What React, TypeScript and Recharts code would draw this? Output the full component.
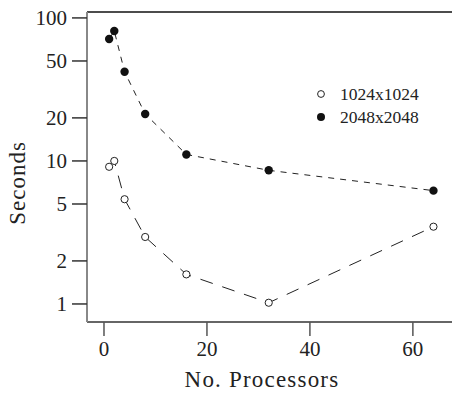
import { ComposedChart, Line, XAxis, YAxis, Label, ReferenceLine } from "recharts";

const processors = [1, 2, 4, 8, 16, 32, 64];
const seconds1024 = [9.1, 10.0, 5.4, 2.94, 1.61, 1.02, 3.47];
const seconds2048 = [71.3, 81, 42, 21.3, 11.1, 8.6, 6.2];
const xTicks = [0, 20, 40, 60];
const yTicks = [1, 2, 5, 10, 20, 50, 100];
const seriesNames = ["1024x1024", "2048x2048"];
const xDomain = [-3.3, 67.6];
const yDomain = [0.748, 110];

const chartData = processors.map((p, i) => ({
  p,
  a: seconds1024[i],
  b: seconds2048[i],
}));

const FONT = "'Liberation Serif', 'Times New Roman', serif";

function OpenDot(props: any) {
  const { cx, cy } = props;
  if (cx == null || cy == null) return null;
  return <circle cx={cx} cy={cy} r={3.6} fill="#fff" stroke="#222" strokeWidth={1} />;
}

function FilledDot(props: any) {
  const { cx, cy } = props;
  if (cx == null || cy == null) return null;
  return <circle cx={cx} cy={cy} r={4.2} fill="#111" stroke="none" />;
}

function LegendBox() {
  return (
    <svg
      width={130}
      height={50}
      style={{ position: "absolute", left: 313, top: 85, overflow: "visible" }}
    >
      <circle cx={8} cy={9} r={3.4} fill="#fff" stroke="#222" strokeWidth={1} />
      <text x={27} y={15} fontFamily={FONT} fontSize={17.5} fill="#222">
        {seriesNames[0]}
      </text>
      <circle cx={8} cy={32} r={4} fill="#111" />
      <text x={27} y={38} fontFamily={FONT} fontSize={17.5} fill="#222">
        {seriesNames[1]}
      </text>
    </svg>
  );
}

export default function App() {
  return (
    <div
      style={{
        position: "absolute",
        left: 0,
        top: 0,
        width: 452,
        height: 396,
        background: "#fff",
      }}
    >
      <ComposedChart
        width={452}
        height={396}
        data={chartData}
        margin={{ top: 12, right: 0, left: 0, bottom: 0 }}
      >
        <XAxis
          dataKey="p"
          type="number"
          domain={xDomain}
          ticks={xTicks}
          allowDataOverflow
          height={74}
          tickSize={14}
          tickMargin={5}
          stroke="#333"
          strokeWidth={1.5}
          tickLine={{ stroke: "#555", strokeWidth: 1.5 }}
          tick={{ fontFamily: FONT, fontSize: 21, fill: "#222" }}
        >
          <Label
            content={() => (
              <text
                x={262}
                y={387}
                textAnchor="middle"
                fontFamily={FONT}
                fontSize={23}
                letterSpacing={1.2}
                fill="#222"
              >
                No. Processors
              </text>
            )}
          />
        </XAxis>
        <YAxis
          type="number"
          scale="log"
          domain={yDomain}
          ticks={yTicks}
          allowDataOverflow
          width={87}
          tickSize={15}
          tickMargin={5}
          stroke="#888"
          strokeWidth={2}
          tickLine={{ stroke: "#333", strokeWidth: 1.5 }}
          tick={{ fontFamily: FONT, fontSize: 21, fill: "#222" }}
        >
          <Label
            content={() => (
              <text
                x={25}
                y={183}
                transform="rotate(-90, 25, 183)"
                textAnchor="middle"
                fontFamily={FONT}
                fontSize={23}
                letterSpacing={1}
                fill="#222"
              >
                Seconds
              </text>
            )}
          />
        </YAxis>
        <ReferenceLine y={yDomain[1]} stroke="#111" strokeWidth={1.5} ifOverflow="visible" />
        <Line
          dataKey="a"
          name={seriesNames[0]}
          stroke="#222"
          strokeWidth={1}
          strokeDasharray="13 10"
          dot={<OpenDot />}
          activeDot={false}
          isAnimationActive={false}
        />
        <Line
          dataKey="b"
          name={seriesNames[1]}
          stroke="#222"
          strokeWidth={1}
          strokeDasharray="6 6"
          dot={<FilledDot />}
          activeDot={false}
          isAnimationActive={false}
        />
      </ComposedChart>
      <LegendBox />
    </div>
  );
}
